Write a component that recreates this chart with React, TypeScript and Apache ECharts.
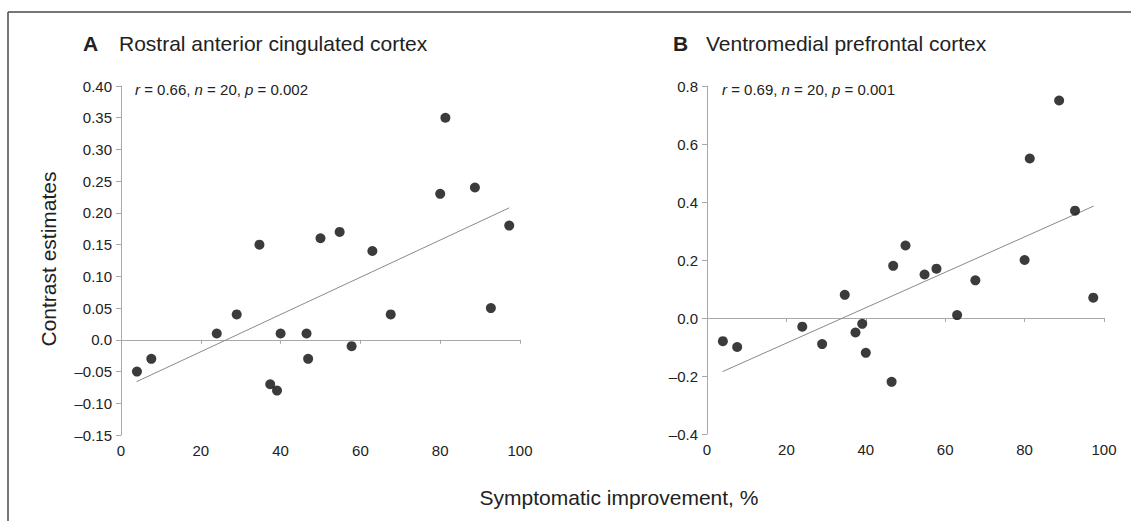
import React, { useEffect, useRef } from "react";
import * as echarts from "echarts";

// Symptomatic improvement (%) for the 20 patients (shared by both panels)
const improvement = [4, 7.6, 24, 29, 34.7, 37.4, 39.1, 40, 46.5, 46.9, 50, 54.8, 57.8, 63, 67.6, 80, 81.3, 88.7, 92.7, 97.3];
// Panel A: rostral anterior cingulated cortex contrast estimates
const contrastRACC = [-0.05, -0.03, 0.01, 0.04, 0.15, -0.07, -0.08, 0.01, 0.01, -0.03, 0.16, 0.17, -0.01, 0.14, 0.04, 0.23, 0.35, 0.24, 0.05, 0.18];
// Panel B: ventromedial prefrontal cortex contrast estimates
const contrastVMPFC = [-0.08, -0.1, -0.03, -0.09, 0.08, -0.05, -0.02, -0.12, -0.22, 0.18, 0.25, 0.15, 0.17, 0.01, 0.13, 0.2, 0.55, 0.75, 0.37, 0.07];
// Regression line end points
const fitA = [[3.9, -0.066], [97.3, 0.208]];
const fitB = [[3.9, -0.185], [97.4, 0.386]];

// Tick values and labels
const xTicks = [0, 20, 40, 60, 80, 100];
const yTicksA = [-0.15, -0.1, -0.05, 0, 0.05, 0.1, 0.15, 0.2, 0.25, 0.3, 0.35, 0.4];
const yTickLabelsA = ["\u20130.15", "\u20130.10", "\u20130.05", "0.0", "0.05", "0.10", "0.15", "0.20", "0.25", "0.30", "0.35", "0.40"];
const yTicksB = [-0.4, -0.2, 0, 0.2, 0.4, 0.6, 0.8];
const yTickLabelsB = ["\u20130.4", "\u20130.2", "0.0", "0.2", "0.4", "0.6", "0.8"];

const titleA = "Rostral anterior cingulated cortex";
const titleB = "Ventromedial prefrontal cortex";
const statsA = "{i|r} = 0.66, {i|n} = 20, {i|p} = 0.002";
const statsB = "{i|r} = 0.69, {i|n} = 20, {i|p} = 0.001";
const yTitle = "Contrast estimates";
const xTitle = "Symptomatic improvement, %";

const FONT = "'Liberation Sans', Arial, Helvetica, sans-serif";
const TXT = "#222";
const AX = "#a8a8a8";

function labelFor(ticks: number[], labels: string[]) {
  return (v: number) => {
    let best = 0;
    for (let i = 0; i < ticks.length; i++) {
      if (Math.abs(ticks[i] - v) < Math.abs(ticks[best] - v)) best = i;
    }
    return labels[best];
  };
}

export default function App() {
  const ref = useRef<HTMLDivElement>(null);
  useEffect(() => {
    document.body.style.margin = "0";
    const chart = echarts.init(ref.current!, null, { renderer: "svg" });

    const xInterval = xTicks[1] - xTicks[0];
    const makeX = (gi: number) => [
      {
        gridIndex: gi,
        type: "value",
        min: xTicks[0],
        max: xTicks[xTicks.length - 1],
        interval: xInterval,
        axisLine: { show: false, onZero: false },
        axisTick: { show: false },
        splitLine: { show: false },
        axisLabel: { fontSize: 15, color: TXT, margin: 8, fontFamily: FONT },
      },
      {
        gridIndex: gi,
        type: "value",
        min: xTicks[0],
        max: xTicks[xTicks.length - 1],
        interval: xInterval,
        axisLine: { show: true, onZero: true, lineStyle: { color: AX, width: 1 } },
        axisTick: { show: true, inside: true, length: 4, lineStyle: { color: AX, width: 1 } },
        axisLabel: { show: false },
        splitLine: { show: false },
      },
    ];
    const makeY = (gi: number, ticks: number[], labels: string[]) => ({
      gridIndex: gi,
      type: "value",
      min: ticks[0],
      max: ticks[ticks.length - 1],
      interval: ticks[1] - ticks[0],
      axisLine: { show: true, onZero: false, lineStyle: { color: AX, width: 1 } },
      axisTick: { show: true, length: 5, lineStyle: { color: AX, width: 1 } },
      axisLabel: { fontSize: 15, color: TXT, margin: 9, fontFamily: FONT, formatter: labelFor(ticks, labels) },
      splitLine: { show: false },
    });

    const option: any = {
      animation: false,
      backgroundColor: "#fff",
      grid: [
        { left: 121, top: 86, width: 399, height: 349 },
        { left: 707, top: 86, width: 397, height: 348 },
      ],
      xAxis: [...makeX(0), ...makeX(1)],
      yAxis: [makeY(0, yTicksA, yTickLabelsA), makeY(1, yTicksB, yTickLabelsB)],
      series: [
        {
          type: "line",
          xAxisIndex: 0,
          yAxisIndex: 0,
          data: fitA,
          symbol: "none",
          lineStyle: { color: "#8a8a8a", width: 1 },
          z: 2,
        },
        {
          type: "scatter",
          xAxisIndex: 0,
          yAxisIndex: 0,
          data: improvement.map((x, i) => [x, contrastRACC[i]]),
          symbolSize: 10,
          itemStyle: { color: "#0a0a0a" },
          z: 3,
        },
        {
          type: "line",
          xAxisIndex: 2,
          yAxisIndex: 1,
          data: fitB,
          symbol: "none",
          lineStyle: { color: "#8a8a8a", width: 1 },
          z: 2,
        },
        {
          type: "scatter",
          xAxisIndex: 2,
          yAxisIndex: 1,
          data: improvement.map((x, i) => [x, contrastVMPFC[i]]),
          symbolSize: 10,
          itemStyle: { color: "#0a0a0a" },
          z: 3,
        },
      ],
      graphic: [
        { type: "line", shape: { x1: 8, y1: 12, x2: 1131, y2: 12 }, style: { stroke: "#4a4a4a", lineWidth: 1.5 } },
        { type: "line", shape: { x1: 8, y1: 12, x2: 8, y2: 521 }, style: { stroke: "#4a4a4a", lineWidth: 1.5 } },
        { type: "text", x: 83, y: 43, style: { text: "A", font: `bold 21px ${FONT}`, fill: TXT, verticalAlign: "middle" } },
        { type: "text", x: 119, y: 43, style: { text: titleA, font: `21px ${FONT}`, fill: TXT, verticalAlign: "middle" } },
        { type: "text", x: 673, y: 43, style: { text: "B", font: `bold 21px ${FONT}`, fill: TXT, verticalAlign: "middle" } },
        { type: "text", x: 706, y: 43, style: { text: titleB, font: `21px ${FONT}`, fill: TXT, verticalAlign: "middle" } },
        {
          type: "text",
          x: 135,
          y: 89,
          style: {
            text: statsA,
            fontSize: 15,
            fontFamily: FONT,
            fill: TXT,
            verticalAlign: "middle",
            rich: { i: { fontStyle: "italic", fontSize: 15, fontFamily: FONT, fill: TXT } },
          },
        },
        {
          type: "text",
          x: 722,
          y: 89,
          style: {
            text: statsB,
            fontSize: 15,
            fontFamily: FONT,
            fill: TXT,
            verticalAlign: "middle",
            rich: { i: { fontStyle: "italic", fontSize: 15, fontFamily: FONT, fill: TXT } },
          },
        },
        {
          type: "text",
          x: 48,
          y: 259,
          rotation: Math.PI / 2,
          style: { text: yTitle, font: `21px ${FONT}`, fill: TXT, align: "center", verticalAlign: "middle" },
        },
        {
          type: "text",
          x: 619,
          y: 497,
          style: { text: xTitle, font: `21px ${FONT}`, fill: TXT, align: "center", verticalAlign: "middle" },
        },
      ],
    };
    chart.setOption(option);
    return () => chart.dispose();
  }, []);
  return <div ref={ref} style={{ width: 1131, height: 521 }} />;
}
